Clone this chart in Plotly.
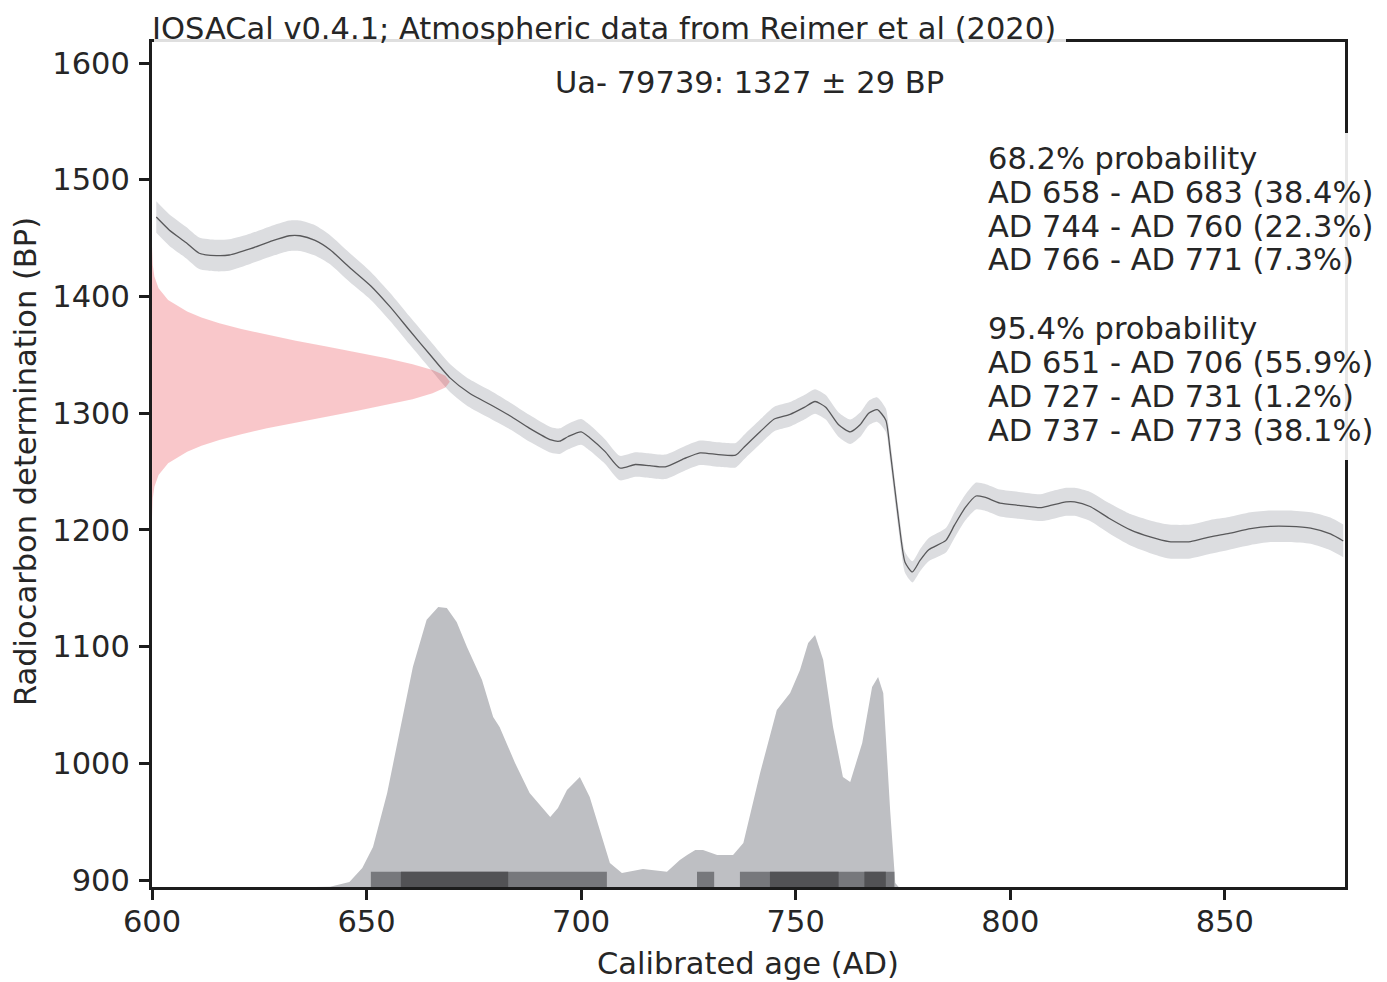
import plotly.graph_objects as go

# ---------------- data ----------------
curve_years = [601, 604, 608, 611, 615, 618, 623, 627.5, 632, 634.5, 638, 641.5, 646, 651, 655.5,
               660, 664.8, 669.5, 674, 679, 683.5, 688, 693, 695, 697, 700, 702, 705.6, 709,
               712.6, 716, 719.6, 724, 727.7, 732, 736, 738, 741.7, 745, 748.7, 752, 754.5,
               757, 760, 762.7, 765, 767, 769, 771, 772, 774, 775.5, 777.2, 779, 781, 785,
               787, 789.5, 792, 794, 797.6, 802, 807, 809, 813, 815, 818.6, 823, 828, 832.6,
               837, 842, 846.6, 851, 856, 860.6, 865, 870, 874.6, 877.6]
curve_bp = [1468, 1457, 1446, 1437, 1435, 1435.5, 1441, 1447, 1452, 1452, 1448, 1440, 1425, 1409, 1391,
            1371, 1350, 1330, 1317, 1307, 1297.5, 1287, 1277, 1276, 1280, 1284, 1279, 1267, 1253,
            1256, 1255, 1254, 1261, 1266, 1264.5, 1264, 1271, 1284, 1295, 1299, 1305, 1310,
            1305, 1290, 1284, 1290, 1300, 1303, 1294, 1268, 1208, 1172, 1164, 1174, 1183, 1191,
            1204, 1219, 1229, 1228, 1223, 1221, 1219, 1220.5, 1224, 1224, 1220, 1210, 1200, 1194,
            1190, 1190, 1194, 1197, 1201, 1203, 1203, 1201.5, 1196.5, 1190.5]
curve_err = [13.5, 13.5, 13.5, 13.5, 13.5, 13.5, 13, 13, 13, 13, 13, 12.5, 12.5, 12, 12,
             12, 12, 12, 12, 12, 11.5, 11.5, 11, 11, 11, 11, 11, 10.5, 10.5,
             10.5, 10.5, 10.5, 10.5, 10.5, 10.5, 10.5, 10.5, 10.5, 10.5, 10.5, 10.5, 10.5,
             10.5, 10.5, 10.5, 10.5, 10.5, 10.5, 10, 9.5, 9, 9, 9, 9.5, 10, 10.5,
             11, 11, 11.5, 11.5, 11.5, 11.5, 11.5, 12, 12, 12, 12.5, 13, 13.5, 14,
             14.5, 14.5, 14.5, 14, 14, 13.5, 13.5, 13.5, 14, 14]

# radiocarbon determination (horizontal density, relative width)
date_bp = [1443, 1427, 1417, 1407, 1397, 1387, 1382, 1377, 1372, 1367, 1362, 1357, 1352, 1347, 1342,
           1337, 1332, 1327, 1322, 1317, 1312, 1307, 1302, 1297, 1292, 1287, 1282, 1277, 1272,
           1267, 1257, 1247, 1237, 1227, 1211]
date_rel = [0.0003, 0.0026, 0.008, 0.022, 0.054, 0.118, 0.166, 0.226, 0.300, 0.386, 0.483, 0.586, 0.690, 0.788, 0.875,
            0.942, 0.985, 1.0, 0.985, 0.942, 0.875, 0.788, 0.690, 0.586, 0.483, 0.386, 0.300, 0.226, 0.166,
            0.118, 0.054, 0.022, 0.008, 0.0026, 0.0003]

# calibrated probability distribution (relative)
cal_years = [638, 641.5, 646, 649, 651.5, 654.8, 657.8, 660.8, 664, 666.7, 668.7, 671, 673.4, 676.9,
             679.5, 681, 684.6, 688, 692.8, 694.6, 696.7, 699.7, 702, 704.4, 706.7, 709.5, 714.4,
             720, 723, 724.7, 726.6, 728.4, 731.7, 735.4, 737.8, 741.7, 745.6, 748.7, 751, 752.9,
             754.5, 756.4, 758.7, 761, 762.7, 765.5, 767.8, 769.2, 770.4, 772, 773.2, 774]
cal_rel = [0, 0.001, 0.018, 0.068, 0.143, 0.336, 0.561, 0.786, 0.954, 1.0, 0.996, 0.946, 0.857, 0.739,
           0.607, 0.571, 0.443, 0.336, 0.25, 0.282, 0.346, 0.393, 0.321, 0.204, 0.086, 0.05, 0.064,
           0.054, 0.096, 0.114, 0.132, 0.132, 0.114, 0.114, 0.157, 0.407, 0.632, 0.693, 0.775, 0.871,
           0.9, 0.811, 0.571, 0.393, 0.375, 0.514, 0.714, 0.75, 0.693, 0.275, 0.014, 0]

hpd68_start = [658, 744, 766]
hpd68_end = [683, 760, 771]
hpd95_start = [651, 727, 737]
hpd95_end = [706, 731, 773]

title_text = "IOSACal v0.4.1; Atmospheric data from Reimer et al (2020)"
date_label = "Ua- 79739: 1327 ± 29 BP"
prob_lines = ["68.2% probability", "AD 658 - AD 683 (38.4%)", "AD 744 - AD 760 (22.3%)",
              "AD 766 - AD 771 (7.3%)", "95.4% probability", "AD 651 - AD 706 (55.9%)",
              "AD 727 - AD 731 (1.2%)", "AD 737 - AD 773 (38.1%)"]

x_ticks = [600, 650, 700, 750, 800, 850]
y_ticks = [900, 1000, 1100, 1200, 1300, 1400, 1500, 1600]

# ---------------- style / layout constants ----------------
X_RANGE = [600, 878]
Y_RANGE = [894, 1618]
BASE = Y_RANGE[0]
CAL_SCALE = 240       # BP units for peak of calibrated distribution
DATE_SCALE = 69.4     # years for peak of radiocarbon gaussian
BAR_H = 13
FONT = "DejaVu Sans"
FS = 30.5
TXT = "#262626"

fig = go.Figure()

# calibration curve band
upper = [b + e for b, e in zip(curve_bp, curve_err)]
lower = [b - e for b, e in zip(curve_bp, curve_err)]
fig.add_trace(go.Scatter(x=curve_years, y=upper, mode="lines", line=dict(width=0, shape="spline", smoothing=0.6),
                         hoverinfo="skip", showlegend=False))
fig.add_trace(go.Scatter(x=curve_years, y=lower, mode="lines", line=dict(width=0, shape="spline", smoothing=0.6),
                         fill="tonexty", fillcolor="#dcdde0", hoverinfo="skip", showlegend=False))
fig.add_trace(go.Scatter(x=curve_years, y=curve_bp, mode="lines",
                         line=dict(color="#58585a", width=1.3, shape="spline", smoothing=0.6),
                         showlegend=False))

# radiocarbon date gaussian
gx = [X_RANGE[0] + r * DATE_SCALE for r in date_rel]
fig.add_trace(go.Scatter(x=[X_RANGE[0]] + gx + [X_RANGE[0]], y=[date_bp[0]] + date_bp + [date_bp[-1]],
                         mode="lines", line=dict(width=0), fill="toself",
                         fillcolor="rgba(232,40,52,0.26)", showlegend=False))

# calibrated distribution
fig.add_trace(go.Scatter(x=cal_years, y=[BASE] * len(cal_years), mode="lines", line=dict(width=0),
                         showlegend=False, hoverinfo="skip"))
fig.add_trace(go.Scatter(x=cal_years, y=[BASE + r * CAL_SCALE for r in cal_rel], mode="lines",
                         line=dict(width=0), fill="tonexty", fillcolor="#bebfc3", showlegend=False))

# HPD interval bars (filled rectangles through the data axes)
def rects(starts, ends):
    xs, ys = [], []
    for s, e in zip(starts, ends):
        xs += [s, e, e, s, s, None]
        ys += [BASE, BASE, BASE + BAR_H, BASE + BAR_H, BASE, None]
    return xs, ys

for st, en, col in [(hpd95_start, hpd95_end, "#77787c"), (hpd68_start, hpd68_end, "#525255")]:
    bx, by = rects(st, en)
    fig.add_trace(go.Scatter(x=bx, y=by, mode="lines", line=dict(width=0), fill="toself",
                             fillcolor=col, showlegend=False, hoverinfo="skip"))

# ---------- geometry (reference pixel coords; page body adds an 8 px offset) ----------
OFF = 8
L, R, T, B = 152, 1345, 42, 887
W, H = 1387 - OFF, 982 - OFF
def px(x):
    return (x - L) / (R - L)
def py(y):
    return (B - y) / (B - T)

shapes = [
    dict(type="rect", xref="paper", yref="paper", x0=px(154), x1=px(1066), y0=py(46), y1=py(8),
         fillcolor="rgba(255,255,255,0.86)", line=dict(width=0), layer="above"),
    dict(type="rect", xref="paper", yref="paper", x0=px(978), x1=px(1384), y0=py(460), y1=py(133),
         fillcolor="rgba(255,255,255,0.9)", line=dict(width=0), layer="above"),
]

def ann(text, x, y, xanchor="left", angle=0):
    return dict(text=text, xref="paper", yref="paper", x=px(x), y=py(y), xanchor=xanchor,
                yanchor="middle", showarrow=False, textangle=angle,
                font=dict(family=FONT, size=FS, color=TXT))

annotations = [
    ann(title_text, 150, 28),
    ann(date_label, 749, 83, "center"),
    ann("Calibrated age (AD)", 748, 964, "center"),
    ann("Radiocarbon determination (BP)", 25, 462, "center", -90),
]
line_y = [158, 192, 226, 260, 328, 362.7, 396.7, 430.7]
for t, yy in zip(prob_lines, line_y):
    annotations.append(ann(t, 986, yy))

axis_common = dict(showgrid=False, zeroline=False, showline=True, linecolor="#1c1c1c", linewidth=3,
                   mirror=True, ticks="outside", ticklen=10, tickwidth=2.5, tickcolor="#1c1c1c",
                   tickfont=dict(family=FONT, size=FS, color=TXT))

fig.update_layout(
    width=W, height=H,
    margin=dict(l=L - OFF, r=W - (R - OFF), t=T - OFF, b=H - (B - OFF), autoexpand=False),
    plot_bgcolor="white", paper_bgcolor="white",
    xaxis=dict(range=X_RANGE, tickvals=x_ticks, ticklabelstandoff=-5, **axis_common),
    yaxis=dict(range=Y_RANGE, tickvals=y_ticks, ticklabelstandoff=3, **axis_common),
    shapes=shapes, annotations=annotations,
    showlegend=False,
)

fig.write_html("out.html")
